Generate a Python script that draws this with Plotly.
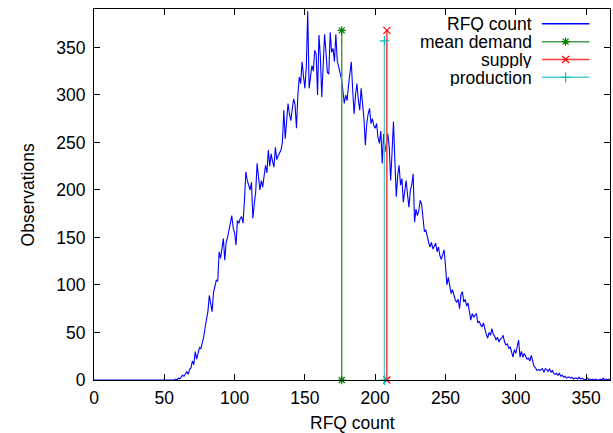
import plotly.graph_objects as go

# RFQ count histogram: x = RFQ count (0..367), y = observations
rfq_x = list(range(0, 368))
rfq_obs = [
    0, 0, 0, 0, 0, 0, 0, 0, 0, 0,
    0, 0, 0, 0, 0, 0, 0, 0, 0, 0,
    0, 0, 0, 0, 0, 0, 0, 0, 0, 0,
    0, 0, 0, 0, 0, 0, 0, 0, 0, 0,
    0, 0, 0, 0, 0, 0, 0, 0, 0, 0,
    0, 0, 0, 0, 0, 0, 0, 0, 1, 0,
    2, 1, 3, 5, 4, 7, 9, 6, 11, 13,
    20, 16, 30, 22, 28, 34, 33, 38, 45, 55,
    62, 72, 89, 78, 72, 92, 98, 105, 104, 135,
    128, 140, 149, 126, 145, 150, 158, 165, 173, 160,
    155, 142, 168, 165, 170, 172, 165, 189, 219, 210,
    205, 200, 208, 170, 185, 198, 228, 215, 200, 210,
    203, 215, 226, 218, 242, 225, 238, 230, 224, 245,
    232, 236, 240, 242, 250, 284, 254, 270, 291, 280,
    273, 285, 296, 290, 265, 300, 319, 312, 335, 320,
    307, 330, 388, 307, 318, 331, 325, 347, 343, 300,
    363, 340, 298, 330, 364, 345, 324, 322, 366, 345,
    349, 335, 364, 336, 330, 322, 317, 305, 291, 300,
    294, 310, 320, 335, 305, 280, 300, 312, 295, 284,
    307, 290, 275, 247, 270, 280, 286, 270, 275, 268,
    265, 270, 255, 249, 262, 228, 259, 240, 252, 259,
    245, 210, 240, 272, 230, 193, 215, 226, 205, 212,
    187, 200, 210, 195, 182, 200, 205, 217, 166, 180,
    173, 178, 189, 185, 170, 156, 158, 150, 145, 140,
    145, 138, 142, 144, 135, 140, 131, 127, 132, 137,
    120, 100, 108, 98, 91, 95, 88, 84, 82, 85,
    75, 90, 93, 82, 85, 78, 81, 72, 63, 70,
    66, 68, 70, 60, 62, 58, 56, 60, 52, 48,
    44, 50, 47, 54, 48, 46, 42, 45, 40, 43,
    44, 47, 40, 37, 38, 33, 35, 30, 24, 32,
    28, 35, 42, 24, 30, 24, 28, 25, 22, 23,
    20, 26, 20, 14, 13, 10, 11, 10, 11, 12,
    8, 12, 11, 9, 12, 8, 10, 7, 6, 7,
    5, 7, 4, 5, 3, 4, 2, 3, 3, 2,
    3, 1, 2, 2, 1, 3, 1, 2, 1, 0,
    1, 2, 0, 1, 0, 1, 0, 1, 0, 0,
    1, 0, 2, 0, 1, 0, 1, 0,
]

# vertical reference lines: (x position, height)
mean_demand_x = [176.2, 176.2]
mean_demand_y = [0, 368]
supply_x = [208.3, 208.3]
supply_y = [0, 368]
production_x = [206.6, 206.6]
production_y = [0, 357]

series_names = ["RFQ count", "mean demand", "supply", "production"]
series_colors = ["#0000ff", "#008000", "#ff0000", "#00c0c0"]
line_colors = ["#0000ff", "#4a9e4a", "#ff3a3a", "#55cccc"]
series_symbols = [None, "asterisk-open", "x-thin-open", "cross-thin-open"]

x_ticks = [0, 50, 100, 150, 200, 250, 300, 350]
y_ticks = [0, 50, 100, 150, 200, 250, 300, 350]

FONT = "Liberation Sans, Arial, sans-serif"
FS = 17.5

fig = go.Figure()
fig.add_trace(go.Scatter(x=rfq_x, y=rfq_obs, mode="lines",
                         line=dict(color=series_colors[0], width=1.1),
                         showlegend=False))
for i, (xs, ys) in enumerate([(mean_demand_x, mean_demand_y),
                              (supply_x, supply_y),
                              (production_x, production_y)], start=1):
    c = series_colors[i]
    fig.add_trace(go.Scatter(x=xs, y=ys, mode="lines+markers",
                             line=dict(color=line_colors[i], width=1.5),
                             marker=dict(symbol=series_symbols[i], size=7, color=c,
                                         line=dict(color=c, width=1.2)),
                             cliponaxis=False, showlegend=False))

# gnuplot-style key: text right-aligned, sample on the right (overlay axes in [0,1])
key_y = [0.960, 0.912, 0.864, 0.816]
for i, name in enumerate(series_names):
    fig.add_annotation(text=name, xref="paper", yref="paper", x=0.851, y=key_y[i],
                       xanchor="right", yanchor="middle", showarrow=False,
                       height=17, valign="middle", borderpad=0,
                       font=dict(family=FONT, size=FS, color="black"))
    fig.add_trace(go.Scatter(x=[0.868, 0.96], y=[key_y[i], key_y[i]], mode="lines",
                             line=dict(color=line_colors[i], width=1.5),
                             xaxis="x2", yaxis="y2", showlegend=False, hoverinfo="skip"))
    if series_symbols[i]:
        fig.add_trace(go.Scatter(x=[0.914], y=[key_y[i]], mode="markers",
                                 marker=dict(symbol=series_symbols[i], size=7, color=series_colors[i],
                                             line=dict(color=series_colors[i], width=1.2)),
                                 xaxis="x2", yaxis="y2", showlegend=False, hoverinfo="skip"))

axis_common = dict(showline=True, linecolor="black", linewidth=1, mirror="allticks",
                   ticks="inside", ticklen=6, tickcolor="black", showgrid=False,
                   zeroline=False, automargin=False,
                   tickfont=dict(family=FONT, size=FS, color="black"))

fig.update_layout(
    width=613, height=433,
    margin=dict(l=94, r=3, t=9, b=53),
    paper_bgcolor="white", plot_bgcolor="white",
    font=dict(family=FONT, size=FS, color="black"),
    xaxis=dict(range=[0, 367], tickvals=x_ticks, ticklabelstandoff=2, **axis_common),
    yaxis=dict(range=[0, 390.5], tickvals=y_ticks, ticklabelstandoff=4, **axis_common),
    xaxis2=dict(range=[0, 1], overlaying="x", visible=False),
    yaxis2=dict(range=[0, 1], overlaying="y", visible=False),
)

# axis titles placed as in the reference
fig.add_annotation(text="RFQ count", xref="paper", yref="paper", x=0.5, y=-0.116,
                   xanchor="center", yanchor="middle", showarrow=False,
                   font=dict(family=FONT, size=FS, color="black"))
fig.add_annotation(text="Observations", xref="paper", yref="paper", x=-0.128, y=0.5,
                   xanchor="center", yanchor="middle", textangle=-90, showarrow=False,
                   font=dict(family=FONT, size=FS, color="black"))

fig.write_html("out.html", config={"displayModeBar": False})

# remove the default page margin so the figure sits at the window's top-left
with open("out.html", "r", encoding="utf-8") as f:
    html = f.read()
html = html.replace("<head>", "<head><style>html,body{margin:0;padding:0;overflow:hidden;}</style>", 1)
with open("out.html", "w", encoding="utf-8") as f:
    f.write(html)
